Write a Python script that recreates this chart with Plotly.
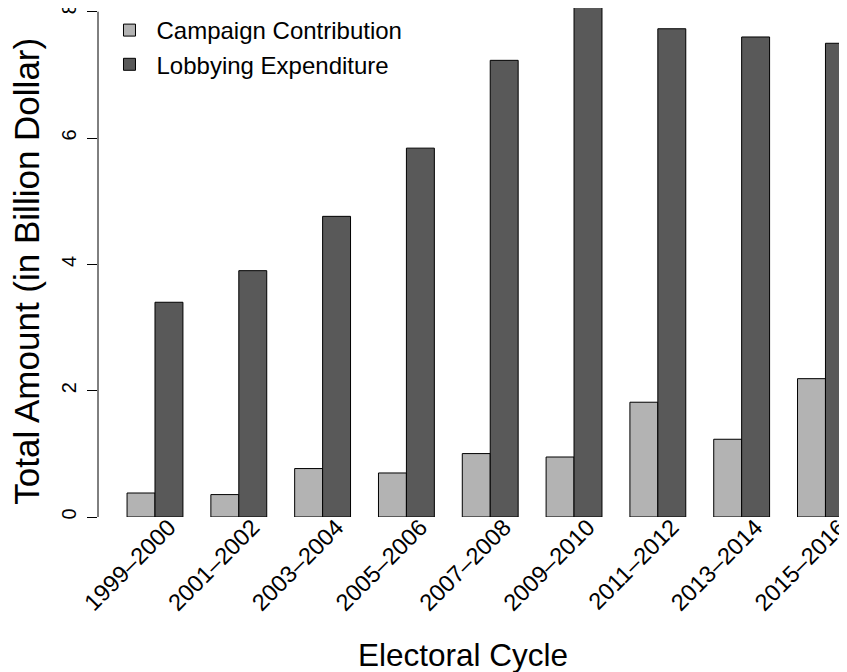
import plotly.graph_objects as go

cycles = ["1999–2000", "2001–2002", "2003–2004", "2005–2006", "2007–2008",
          "2009–2010", "2011–2012", "2013–2014", "2015–2016"]
campaign = [0.38, 0.355, 0.767, 0.697, 1.004, 0.95, 1.817, 1.231, 2.19]
lobbying = [3.40, 3.90, 4.76, 5.84, 7.23, 8.13, 7.73, 7.60, 7.50]
y_ticks = [0, 2, 4, 6, 8]

FONT = "Liberation Sans, Arial, Helvetica, sans-serif"
OFF = 8  # page body margin around the figure
W, H = 847 - OFF, 672 - OFF
L = 97.5 - OFF
ZERO = 516.7 - OFF          # pixel of y = 0 (figure coords)
PXU = 63.125                # pixels per unit
PW, PH = W - L, ZERO
B = H - PH

fig = go.Figure()
fig.add_trace(go.Bar(x=cycles, y=campaign, name="Campaign Contribution",
                     marker=dict(color="#B3B3B3", line=dict(color="black", width=1))))
fig.add_trace(go.Bar(x=cycles, y=lobbying, name="Lobbying Expenditure",
                     marker=dict(color="#595959", line=dict(color="black", width=1))))

fig.update_layout(
    width=W, height=H,
    margin=dict(l=L, r=0, t=0, b=B, pad=0, autoexpand=False),
    paper_bgcolor="white", plot_bgcolor="white",
    barmode="group", bargap=1/3, bargroupgap=0,
    font=dict(family=FONT, color="black"),
    showlegend=True,
    legend=dict(x=(102 - L - OFF) / PW, y=1, xanchor="left", yanchor="top",
                font=dict(size=24, family=FONT), bgcolor="rgba(0,0,0,0)",
                itemwidth=44, tracegroupgap=0),
    xaxis=dict(type="category", range=[-0.68, 8.257], showline=False, showgrid=False,
               zeroline=False, ticks="", tickangle=-45, tickfont=dict(size=23.5),
               ticklabelshift=14, ticklabelstandoff=-9),
    yaxis=dict(range=[0, ZERO / PXU], tickvals=y_ticks, ticktext=[str(v) for v in y_ticks],
               ticks="outside", ticklen=10, tickcolor="black", tickwidth=1,
               showline=False, showgrid=False, zeroline=False, tickangle=-90,
               tickfont=dict(size=20), ticklabelstandoff=3, ticklabeloverflow="allow"),
    shapes=[dict(type="line", xref="paper", yref="y", x0=0, x1=0, y0=0, y1=8,
                 line=dict(color="black", width=1))],
    annotations=[
        dict(text="Electoral Cycle", xref="paper", yref="paper",
             x=(462.8 - OFF - L) / PW, y=-(655 - OFF - PH) / PH, xanchor="center",
             yanchor="middle", showarrow=False, font=dict(size=31.5, family=FONT)),
        dict(text="Total Amount (in Billion Dollar)", xref="paper", yref="paper",
             x=(18 - L) / PW, y=(PH - (271 - OFF)) / PH, xanchor="center", yanchor="middle",
             textangle=-90, showarrow=False, font=dict(size=35, family=FONT)),
    ],
)

fig.write_html("out.html")
